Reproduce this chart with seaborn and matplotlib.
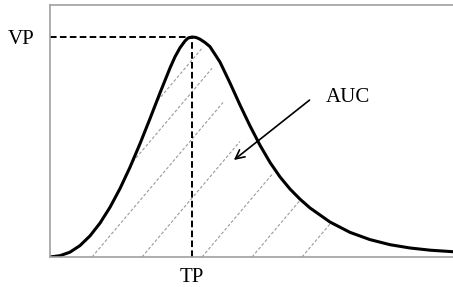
import numpy as np
import matplotlib
matplotlib.use("Agg")
import matplotlib.pyplot as plt
from matplotlib.patches import Polygon
import seaborn as sns

sns.set_theme(style="white")
plt.rcParams["font.family"] = ["Liberation Serif", "DejaVu Serif"]
plt.rcParams["text.color"] = "black"
plt.rcParams["xtick.color"] = "black"
plt.rcParams["ytick.color"] = "black"

# time-concentration curve (arbitrary units)
time = [0, 1, 2, 3, 4, 5, 6, 7, 8, 9, 10, 11, 12, 12.5, 13, 13.5, 13.8, 14.2,
        14.6, 15, 15.5, 16, 17, 18, 19, 20, 21, 22, 23, 24, 25, 26, 28, 30,
        32, 34, 36, 38, 40.3]
conc = [0, 0.006, 0.022, 0.052, 0.096, 0.154, 0.226, 0.311, 0.408, 0.515,
        0.629, 0.746, 0.859, 0.910, 0.951, 0.982, 0.995, 1.0, 0.998, 0.99,
        0.975, 0.956, 0.886, 0.791, 0.691, 0.596, 0.508, 0.430, 0.364, 0.309,
        0.263, 0.223, 0.159, 0.112, 0.079, 0.056, 0.041, 0.031, 0.024]

tp = 14.2   # time to peak
vp = 1.0    # peak value

# hand drawn hatch lines under the curve: start on baseline, end point (time)
hatch_start = [-2.5, 0.2, 4.2, 9.2, 15.2, 20.2, 25.2]
hatch_end = [15.3, 16.2, 17.3, 19.0, 22.2, 25.2, 28.2]
hatch_slope = 0.0536

fig = plt.figure(figsize=(4.53, 2.87), dpi=100)
ax = fig.add_axes([50 / 453, 30 / 287, 403 / 453, 252 / 287])

# area under curve used to clip the hatching
area = Polygon(np.column_stack([time + [time[-1], 0], conc + [0, 0]]),
               closed=True, facecolor="none", edgecolor="none")
ax.add_patch(area)

for t0, t1 in zip(hatch_start, hatch_end):
    ln, = ax.plot([t0, t1], [0, hatch_slope * (t1 - t0)], color="#9a9a9a",
                  lw=0.8, linestyle=(0, (2.7, 1.8)))
    ln.set_clip_path(area)

# dashed guides to peak
ax.plot([0, tp], [vp, vp], color="black", lw=1.4, linestyle=(0, (3.4, 1.7)))
ax.plot([tp, tp], [0, vp], color="black", lw=1.4, linestyle=(0, (3.4, 1.7)))

sns.lineplot(x=time, y=conc, color="black", linewidth=2.2, ax=ax, sort=False)

ax.annotate("", xy=(18.17, 0.433), xytext=(26.17, 0.721),
            arrowprops=dict(arrowstyle="->", color="black", lw=1.2,
                            mutation_scale=16))
ax.text(27.6, 0.725, "AUC", fontsize=15, va="center", ha="left", color="black")

ax.set_xlim(0, 40.3)
ax.set_ylim(0, 252 / 220)
ax.set_xticks([tp])
ax.set_xticklabels(["TP"], fontsize=15)
ax.set_yticks([vp])
ax.set_yticklabels(["VP"], fontsize=15)
ax.tick_params(axis="x", length=0, pad=8, labelcolor="black")
ax.tick_params(axis="y", length=0, pad=11, labelcolor="black")
ax.set_xlabel("")
ax.set_ylabel("")

for side in ["left", "top", "bottom"]:
    ax.spines[side].set_color("#a0a0a0")
    ax.spines[side].set_linewidth(1.2)
ax.spines["right"].set_visible(False)

fig.savefig("out.png", dpi=100)
